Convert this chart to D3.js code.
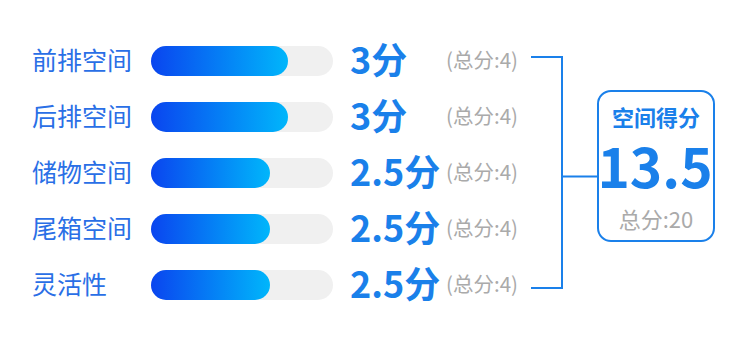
<!DOCTYPE html>
<html>
<head>
<meta charset="utf-8">
<script src="https://d3js.org/d3.v7.min.js"></script>
<style>
body { margin: 0; background: #fff; }
text { font-family: "Noto Sans CJK SC", "Noto Sans", sans-serif; }
</style>
</head>
<body>
<script>
categories = ["前排空间", "后排空间", "储物空间", "尾箱空间", "灵活性"]
scores = [3, 3, 2.5, 2.5, 2.5]
maxScores = [4, 4, 4, 4, 4]
totalScore = 13.5
totalMax = 20
boxTitle = "空间得分"

width = 750
height = 339
barX = 151
trackW = 182
barH = 30

svg = d3.select("body")
    .append("svg")
    .attr("width", width)
    .attr("height", height)

grad = svg.append("defs")
    .append("linearGradient")
    .attr("id", "barGrad")
    .attr("x1", "0%").attr("x2", "100%")
grad.append("stop").attr("offset", "0%").attr("stop-color", "#0a45ef")
grad.append("stop").attr("offset", "100%").attr("stop-color", "#00b6fb")

y = d3.scalePoint()
    .domain(categories)
    .range([61, 285])

// fill length, fitted to the picture
x = d3.scaleLinear()
    .domain([0, 4])
    .range([29, 173])

rows = svg.selectAll("g.row")
    .data(categories)
    .enter()
    .append("g")
    .attr("class", "row")
    .attr("transform", function(d) { return "translate(0," + y(d) + ")"; })

rows.append("text")
    .attr("x", 32)
    .attr("y", 0)
    .attr("dy", "0.36em")
    .attr("font-size", 25)
    .attr("fill", "#2a6fe6")
    .text(function(d) { return d; })

rows.append("rect")
    .attr("x", barX)
    .attr("y", -barH/2)
    .attr("width", trackW)
    .attr("height", barH)
    .attr("rx", barH/2)
    .attr("fill", "#f0f0f0")

rows.append("rect")
    .attr("x", barX)
    .attr("y", -barH/2)
    .attr("width", function(d, i) { return x(scores[i]); })
    .attr("height", barH)
    .attr("rx", barH/2)
    .attr("fill", "url(#barGrad)")

rows.append("text")
    .attr("x", 350)
    .attr("y", 0)
    .attr("dy", "0.36em")
    .attr("font-size", 36)
    .attr("font-weight", "bold")
    .attr("fill", "#1a80ea")
    .text(function(d, i) { return scores[i] + "分"; })

rows.append("text")
    .attr("x", 446)
    .attr("y", 0)
    .attr("dy", "0.36em")
    .attr("font-size", 20.5)
    .attr("fill", "#aaaaaa")
    .text(function(d, i) { return "(总分:" + maxScores[i] + ")"; })

// bracket
yTop = y(categories[0]) - 4
yBottom = y(categories[categories.length-1]) + 3
yMid = 176.5
svg.append("path")
    .attr("d", "M531," + yTop + "H562V" + yBottom + "H531M562," + yMid + "H597")
    .attr("fill", "none")
    .attr("stroke", "#1a80ea")
    .attr("stroke-width", 2)

svg.append("rect")
    .attr("x", 598)
    .attr("y", 91)
    .attr("width", 116)
    .attr("height", 150)
    .attr("rx", 13)
    .attr("fill", "#fff")
    .attr("stroke", "#1a80ea")
    .attr("stroke-width", 2)

svg.append("text")
    .attr("x", 656)
    .attr("y", 126)
    .attr("text-anchor", "middle")
    .attr("font-size", 22)
    .attr("font-weight", "bold")
    .attr("fill", "#1a80ea")
    .text(boxTitle)

svg.append("text")
    .attr("x", 655)
    .attr("y", 188)
    .attr("text-anchor", "middle")
    .attr("font-size", 55)
    .attr("font-weight", "bold")
    .attr("fill", "#1a80ea")
    .text(totalScore)

svg.append("text")
    .attr("x", 656)
    .attr("y", 228)
    .attr("text-anchor", "middle")
    .attr("font-size", 22)
    .attr("fill", "#aaaaaa")
    .text("总分:" + totalMax)
</script>
</body>
</html>
